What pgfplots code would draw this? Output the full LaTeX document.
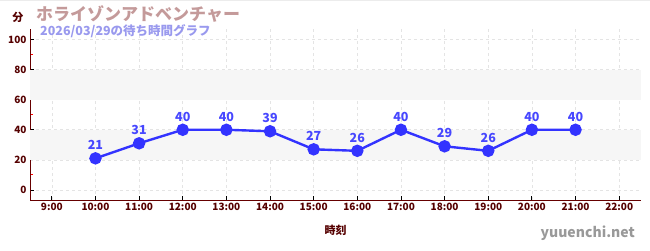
\documentclass[border=0pt]{standalone}
\usepackage{fontspec}
\setmainfont{Noto Sans CJK JP}
\usepackage{pgfplots}
\pgfplotsset{compat=1.18}
\definecolor{axred}{HTML}{660000}
\definecolor{ticklab}{HTML}{550000}
\definecolor{lineblue}{HTML}{3333FF}
\definecolor{titlecol}{HTML}{C49A9A}
\definecolor{subcol}{HTML}{9999EE}
\definecolor{band}{HTML}{F6F6F6}
\definecolor{gridc}{HTML}{E4E4E4}
\begin{document}
\begin{tikzpicture}[x=1pt,y=1pt]
\begin{axis}[
  at={(30pt,50pt)}, anchor=south west,
  scale only axis, width=611pt, height=171pt,
  xmin=8.5, xmax=22.5, ymin=-6.7, ymax=107,
  axis x line*=bottom, axis y line*=left,
  axis line style={axred, line width=1pt},
  xtick={9,...,22},
  xticklabels={9:00,10:00,11:00,12:00,13:00,14:00,15:00,16:00,17:00,18:00,19:00,20:00,21:00,22:00},
  ytick={0,20,...,100},
  minor ytick={10,30,...,90},
  tick style={black, line width=0.8pt},
  major tick length=4pt,
  minor tick length=3pt,
  minor tick style={red},
  /pgf/number format/assume math mode=true,
  ticklabel style={font=\fontsize{10}{11}\selectfont\bfseries, text=ticklab},
  grid=major,
  major grid style={gridc, dashed, line width=0.6pt},
  clip=false,
  xlabel={時刻},
  xlabel style={font=\fontsize{11}{12}\selectfont\bfseries, text=ticklab, yshift=-7pt},
]
\fill[band] (axis cs:8.5,20) rectangle (axis cs:22.5,40);
\fill[band] (axis cs:8.5,60) rectangle (axis cs:22.5,80);
\addplot[lineblue, line width=2.4pt, mark=*, mark size=5pt,
  mark options={lineblue},
  nodes near coords,
  every node near coord/.append style={font=\fontsize{12.5}{13}\selectfont\bfseries, text=lineblue!90!white, yshift=4pt}]
  coordinates {
  (10,21) (11,31) (12,40) (13,40) (14,39) (15,27) (16,26) (17,40) (18,29) (19,26) (20,40) (21,40)
  };
\end{axis}
\node[anchor=center, font=\fontsize{11}{12}\selectfont\bfseries, text=ticklab] at (18,233) {分};
\node[anchor=west, font=\fontsize{17}{18}\selectfont\bfseries, text=titlecol, inner sep=0pt] at (36,236) {ホライゾンアドベンチャー};
\node[anchor=west, font=\fontsize{12.5}{14}\selectfont\bfseries, text=subcol, inner sep=0pt] at (40,219) {2026/03/29の待ち時間グラフ};
\node[anchor=east, font=\fontsize{14}{16}\selectfont\bfseries, text=gray!80, inner sep=0pt] at (635,17) {yuuenchi.net};
\draw[gray!15, line width=1pt] (0,249.5) -- (650,249.5);
\pgfresetboundingbox
\path (0,0) rectangle (650,250);
\end{tikzpicture}
\end{document}
